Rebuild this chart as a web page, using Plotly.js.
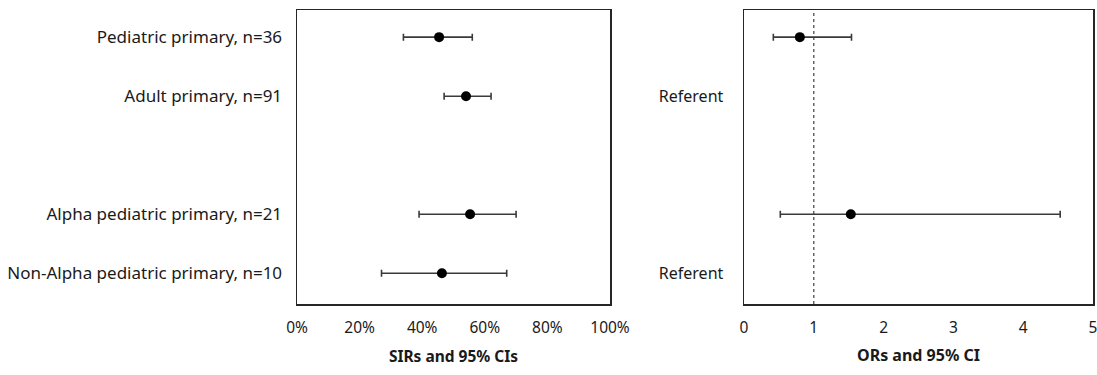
<!DOCTYPE html>
<html>
<head>
<meta charset="utf-8">
<script src="https://cdn.plot.ly/plotly-3.0.1.min.js"></script>
<style>
  html, body { margin: 0; padding: 0; background: #fff; }
  #chart { width: 1097px; height: 375px; }
</style>
</head>
<body>
<div id="chart"></div>
<script>
// ---- data ----
const rowLabels = [
  "Pediatric primary, n=36",
  "Adult primary, n=91",
  "gap",
  "Alpha pediatric primary, n=21",
  "Non-Alpha pediatric primary, n=10"
];
const sirRows   = ["Pediatric primary, n=36", "Adult primary, n=91", "Alpha pediatric primary, n=21", "Non-Alpha pediatric primary, n=10"];
const sirValues = [0.454, 0.54, 0.553, 0.463];
const sirLower  = [0.34, 0.47, 0.39, 0.27];
const sirUpper  = [0.56, 0.62, 0.70, 0.67];

const orRows    = ["Pediatric primary, n=36", "Alpha pediatric primary, n=21"];
const orValues  = [0.80, 1.53];
const orLower   = [0.42, 0.52];
const orUpper   = [1.54, 4.53];
const referentRows = ["Adult primary, n=91", "Non-Alpha pediatric primary, n=10"];
const referentText = ["Referent", "Referent"];

const sirTicks = [0, 0.2, 0.4, 0.6, 0.8, 1.0];
const orTicks  = [0, 1, 2, 3, 4, 5];
const nullLine = 1;

// ---- build ----
const FONT = "Noto Sans, Open Sans, sans-serif";
const TXT = "#1a1a1a";
const LINE = "#262626";
const ERR = "#3a3a3a";

function errPlus(v, up) { return v.map((x, i) => up[i] - x); }
function errMinus(v, lo) { return v.map((x, i) => x - lo[i]); }

const traces = [
  {
    type: "scatter", mode: "markers",
    x: sirValues, y: sirRows, xaxis: "x", yaxis: "y",
    marker: { color: "#000", size: 10 },
    error_x: { type: "data", symmetric: false,
      array: errPlus(sirValues, sirUpper), arrayminus: errMinus(sirValues, sirLower),
      color: ERR, thickness: 1.6, width: 3.5 },
    hoverinfo: "x+y", showlegend: false
  },
  {
    type: "scatter", mode: "markers",
    x: orValues, y: orRows, xaxis: "x2", yaxis: "y2",
    marker: { color: "#000", size: 10 },
    error_x: { type: "data", symmetric: false,
      array: errPlus(orValues, orUpper), arrayminus: errMinus(orValues, orLower),
      color: ERR, thickness: 1.6, width: 3.5 },
    hoverinfo: "x+y", showlegend: false
  }
];

const yRange = [4.52, -0.46];
const commonAxis = {
  showgrid: false, zeroline: false, showline: true, mirror: true,
  linecolor: LINE, linewidth: 1.5, ticks: "",
  tickfont: { family: FONT, size: 15.5, color: TXT },
  ticklabeloverflow: "allow",
  fixedrange: true
};

const layout = {
  width: 1097, height: 375,
  margin: { l: 0, r: 0, t: 10, b: 71 },
  paper_bgcolor: "#fff", plot_bgcolor: "#fff",
  font: { family: FONT, color: TXT },
  xaxis: Object.assign({}, commonAxis, {
    domain: [297/1097, 610/1097], range: [0, 1],
    tickvals: sirTicks, tickformat: ".0%", ticklabelstandoff: 9,
    title: { text: "<b>SIRs and 95% CIs</b>", font: { family: FONT, size: 15.5, color: TXT }, standoff: 14 }
  }),
  yaxis: Object.assign({}, commonAxis, {
    type: "category", categoryorder: "array", categoryarray: rowLabels,
    range: yRange, tickvals: sirRows, ticktext: sirRows, ticklabelstandoff: 10,
    tickfont: { family: FONT, size: 17, color: TXT },
    anchor: "x"
  }),
  xaxis2: Object.assign({}, commonAxis, {
    domain: [744/1097, 1093/1097], range: [0, 5],
    tickvals: orTicks, ticklabelstandoff: 9, anchor: "y2",
    title: { text: "<b>ORs and 95% CI</b>", font: { family: FONT, size: 16, color: TXT }, standoff: 12 }
  }),
  yaxis2: Object.assign({}, commonAxis, {
    type: "category", categoryorder: "array", categoryarray: rowLabels,
    range: yRange, tickvals: referentRows, ticktext: referentText, ticklabelstandoff: 16,
    tickfont: { family: FONT, size: 16, color: TXT },
    anchor: "x2"
  }),
  shapes: [{
    type: "line", xref: "x2", yref: "y2 domain",
    x0: nullLine, x1: nullLine, y0: 0, y1: 1,
    line: { color: "#404040", width: 1.2, dash: "dot" }, layer: "below"
  }]
};

Plotly.newPlot("chart", traces, layout, { displayModeBar: false, staticPlot: true });
</script>
</body>
</html>
